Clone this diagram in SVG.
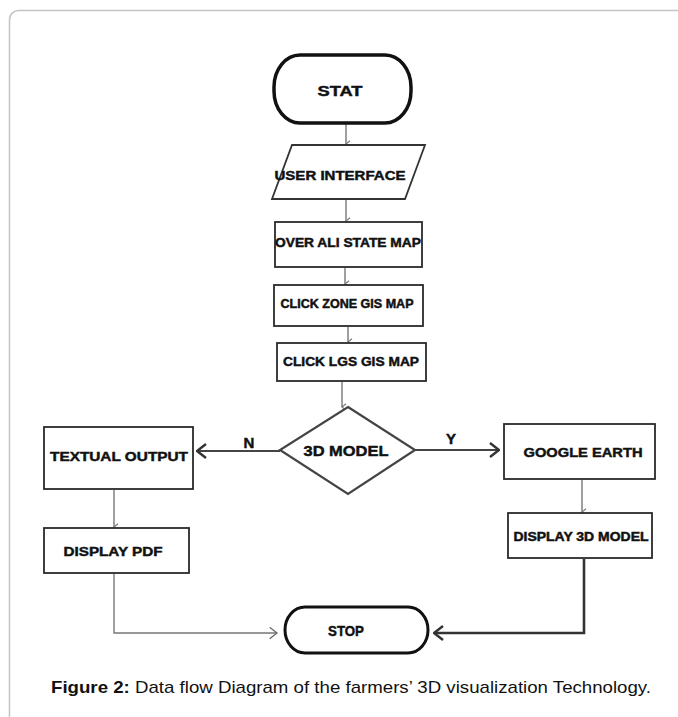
<svg xmlns="http://www.w3.org/2000/svg" width="678" height="717" viewBox="0 0 678 717">
<defs>
<style>
.frame{fill:#fff;stroke:#c4c4c4;stroke-width:1.5}
.term{fill:#fff;stroke:#111;stroke-width:3.5}
.box{fill:#fff;stroke:#2a2a2a;stroke-width:1.8}
.dia{fill:#fff;stroke:#444;stroke-width:2.2}
.t{font-family:"Liberation Sans",Arial,sans-serif;font-weight:bold;fill:#111;stroke:#111;stroke-width:0.45;text-anchor:middle;dominant-baseline:central}
.small{stroke:#777;stroke-width:1.4;fill:none}
.big{stroke:#444;stroke-width:2.2;fill:none}
.dark{stroke:#333;stroke-width:2.6;fill:none}
.cap{font-family:"Liberation Sans",Arial,sans-serif;font-size:17px;fill:#111}
</style>
<marker id="sa" viewBox="0 0 10 10" refX="5" refY="9" markerWidth="8" markerHeight="8" markerUnits="userSpaceOnUse" orient="auto-start-reverse">
<path d="M1,4 L5,9 L9,4" fill="none" stroke="#777" stroke-width="1.4"/>
</marker>
<marker id="ba" viewBox="0 0 12 16" refX="11" refY="8" markerWidth="12" markerHeight="16" markerUnits="userSpaceOnUse" orient="auto">
<path d="M2,1 L11,8 L2,15" fill="none" stroke="#333" stroke-width="2.4"/>
</marker>
<marker id="ga" viewBox="0 0 12 16" refX="11" refY="8" markerWidth="10" markerHeight="13" markerUnits="userSpaceOnUse" orient="auto">
<path d="M2,1 L11,8 L2,15" fill="none" stroke="#666" stroke-width="1.6"/>
</marker>
</defs>
<rect class="frame" x="9.5" y="10.5" width="720" height="760" rx="9"/>

<g id="connectors">
<line class="small" x1="346" y1="124" x2="346" y2="144" marker-end="url(#sa)"/>
<line class="small" x1="346" y1="200" x2="346" y2="221" marker-end="url(#sa)"/>
<line class="small" x1="345" y1="268" x2="345" y2="284" marker-end="url(#sa)"/>
<line class="small" x1="348" y1="327" x2="348" y2="342" marker-end="url(#sa)"/>
<line class="small" x1="342" y1="382" x2="342" y2="407" marker-end="url(#sa)"/>
<line class="big" x1="280" y1="451" x2="197" y2="451" marker-end="url(#ba)"/>
<line class="big" x1="415" y1="450" x2="499" y2="450" marker-end="url(#ba)"/>
<line class="small" x1="114" y1="490" x2="114" y2="527" marker-end="url(#sa)"/>
<line class="small" x1="582" y1="480" x2="582" y2="512" marker-end="url(#sa)"/>
<polyline class="small" points="114,574 114,633 277,633" marker-end="url(#ga)"/>
<polyline class="dark" points="584,559 584,633 434,633" marker-end="url(#ba)"/>
<text class="t" x="249" y="442" font-size="15">N</text>
<text class="t" x="451" y="438" font-size="15">Y</text>
</g>

<g id="stat">
<rect class="term" x="274" y="55" width="137" height="68" rx="26" ry="32"/>
<text class="t" x="340" y="90" font-size="15" textLength="45" lengthAdjust="spacingAndGlyphs">STAT</text>
</g>
<g id="user-interface">
<polygon class="box" points="292,145 425,145 405,199 272,199" style="stroke:#333"/>
<text class="t" x="340" y="175" font-size="13" textLength="131" lengthAdjust="spacingAndGlyphs">USER INTERFACE</text>
</g>
<g id="over-ali">
<rect class="box" x="275" y="222" width="147" height="45"/>
<text class="t" x="348" y="243" font-size="12.5" textLength="146" lengthAdjust="spacingAndGlyphs">OVER ALI STATE MAP</text>
</g>
<g id="click-zone">
<rect class="box" x="274" y="285" width="149" height="41"/>
<text class="t" x="347" y="304" font-size="12" textLength="133" lengthAdjust="spacingAndGlyphs">CLICK ZONE GIS MAP</text>
</g>
<g id="click-lgs">
<rect class="box" x="277" y="343" width="149" height="38"/>
<text class="t" x="351" y="362" font-size="12.5" textLength="136" lengthAdjust="spacingAndGlyphs">CLICK LGS GIS MAP</text>
</g>
<g id="model3d">
<polygon class="dia" points="348,407 415,450 348,494 280,450"/>
<text class="t" x="346" y="450" font-size="15" textLength="85" lengthAdjust="spacingAndGlyphs">3D MODEL</text>
</g>
<g id="textual">
<rect class="box" x="44" y="427" width="149" height="62"/>
<text class="t" x="119" y="456" font-size="13" textLength="138" lengthAdjust="spacingAndGlyphs">TEXTUAL OUTPUT</text>
</g>
<g id="display-pdf">
<rect class="box" x="44" y="528" width="145" height="45"/>
<text class="t" x="113" y="551" font-size="13" textLength="99" lengthAdjust="spacingAndGlyphs">DISPLAY PDF</text>
</g>
<g id="google-earth">
<rect class="box" x="504" y="424" width="151" height="55"/>
<text class="t" x="583" y="452" font-size="13" textLength="119" lengthAdjust="spacingAndGlyphs">GOOGLE EARTH</text>
</g>
<g id="display-3d">
<rect class="box" x="508" y="513" width="144" height="45"/>
<text class="t" x="581" y="537" font-size="12" textLength="135" lengthAdjust="spacingAndGlyphs">DISPLAY 3D MODEL</text>
</g>
<g id="stop">
<rect class="term" x="285" y="607" width="143" height="46" rx="20" ry="23" style="stroke-width:3"/>
<text class="t" x="346" y="630" font-size="15" textLength="36" lengthAdjust="spacingAndGlyphs">STOP</text>
</g>

<text class="cap" x="51" y="693" textLength="600" lengthAdjust="spacingAndGlyphs"><tspan font-weight="bold">Figure 2:</tspan> Data flow Diagram of the farmers’ 3D visualization Technology.</text>
</svg>
